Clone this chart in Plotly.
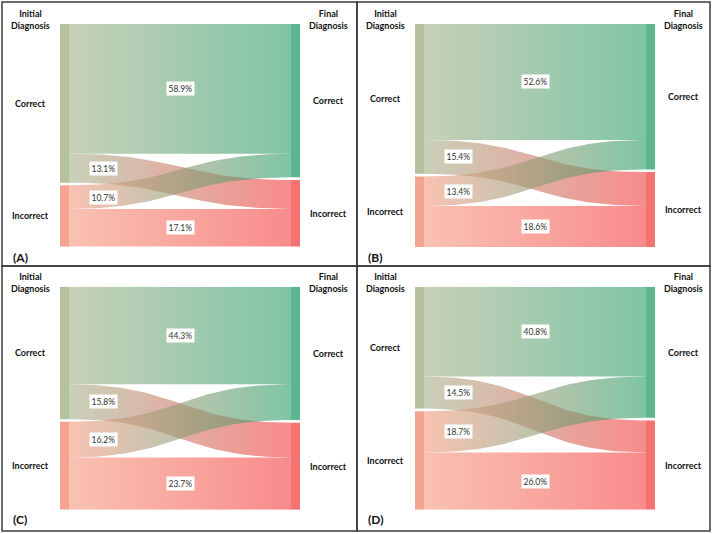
import numpy as np
import plotly.graph_objects as go

# ---------------- data ----------------
panel_letters = ["(A)", "(B)", "(C)", "(D)"]
correct_to_correct = [58.9, 52.6, 44.3, 40.8]
correct_to_incorrect = [13.1, 15.4, 15.8, 14.5]
incorrect_to_correct = [10.7, 13.4, 16.2, 18.7]
incorrect_to_incorrect = [17.1, 18.6, 23.7, 26.0]
node_labels = ["Correct", "Incorrect"]
stage_labels = ["Initial<br>Diagnosis", "Final<br>Diagnosis"]

# ---------------- style / layout constants ----------------
W, H = 714, 534
FONT = "Lato"
GAP = 1.2                 # gap between nodes (in % units)
Y_TOTAL = 100 + GAP
THICK = 9 / 240           # node thickness as fraction of sankey width
ALPHA = 0.6

node_col_left = ["#b5c2a0", "#f4a591"]
node_col_right = ["#5eb58e", "#f37272"]
base_left = [(163, 177, 138), (245, 153, 127)]
base_right = [(42, 158, 105), (243, 62, 62)]


def rgba(c, a=ALPHA):
    return f"rgba({c[0]},{c[1]},{c[2]},{a})"


fig = go.Figure()
annotations = []
shapes = []

col_off = [0, 355]
row_off = [0, 262.7]


def bez(xa, xb, ya, yb, n=60):
    t = np.linspace(0, 1, n)
    xm = (xa + xb) / 2
    x = (1 - t) ** 3 * xa + 3 * (1 - t) ** 2 * t * xm + 3 * (1 - t) * t ** 2 * xm + t ** 3 * xb
    y = (1 - t) ** 3 * ya + 3 * (1 - t) ** 2 * t * ya + 3 * (1 - t) * t ** 2 * yb + t ** 3 * yb
    return x, y


label_font = dict(family=FONT, size=9, color="#111", weight="bold")

for i in range(4):
    col, row = i % 2, i // 2
    ax = "" if i == 0 else str(i + 1)
    xref, yref = "x" + ax, "y" + ax
    x0px, x1px = 60 + col_off[col], 300 + col_off[col]
    y0px, y1px = 24 + row_off[row], 247 + row_off[row]
    fig.update_layout(**{
        "xaxis" + ax: dict(domain=[x0px / W, x1px / W], range=[0, 1], visible=False,
                           anchor=yref, fixedrange=True),
        "yaxis" + ax: dict(domain=[1 - y1px / H, 1 - y0px / H], range=[Y_TOTAL, 0],
                           visible=False, anchor=xref, fixedrange=True),
    })

    cc, ci = correct_to_correct[i], correct_to_incorrect[i]
    ic, ii = incorrect_to_correct[i], incorrect_to_incorrect[i]
    Lc, Li = cc + ci, ic + ii
    Rc, Ri = cc + ic, ci + ii
    left_nodes = [(0, Lc), (Lc + GAP, Lc + GAP + Li)]
    right_nodes = [(0, Rc), (Rc + GAP, Rc + GAP + Ri)]

    # links: (value, src_y, tgt_y, src_idx, tgt_idx)
    links = [
        (cc, 0, 0, 0, 0),
        (ii, Lc + GAP + ic, Rc + GAP + ci, 1, 1),
        (ci, cc, Rc + GAP, 0, 1),
        (ic, Lc + GAP, cc, 1, 0),
    ]
    xa, xb = THICK, 1 - THICK
    for v, s, t, si, ti in links:
        xt, yt = bez(xa, xb, s, t)
        xbm, ybm = bez(xa, xb, s + v, t + v)
        xs = np.concatenate([xt, xbm[::-1], [xt[0]]])
        ys = np.concatenate([yt, ybm[::-1], [yt[0]]])
        fig.add_trace(go.Scatter(
            x=xs, y=ys, xaxis=xref, yaxis=yref, mode="lines", line=dict(width=0),
            fill="toself",
            fillgradient=dict(type="horizontal",
                              colorscale=[[0, rgba(base_left[si])], [1, rgba(base_right[ti])]]),
            hoverinfo="skip", showlegend=False))

    # nodes
    for k, (a, b) in enumerate(left_nodes):
        fig.add_trace(go.Scatter(x=[0, THICK, THICK, 0, 0], y=[a, a, b, b, a],
                                 xaxis=xref, yaxis=yref, mode="lines", line=dict(width=0),
                                 fill="toself", fillcolor=node_col_left[k],
                                 hoverinfo="skip", showlegend=False))
        annotations.append(dict(x=-0.125, y=(a + b) / 2, xref=xref + " domain", yref=yref,
                                text=node_labels[k], showarrow=False,
                                xanchor="center", yanchor="middle", font=label_font))
    for k, (a, b) in enumerate(right_nodes):
        fig.add_trace(go.Scatter(x=[1 - THICK, 1, 1, 1 - THICK, 1 - THICK], y=[a, a, b, b, a],
                                 xaxis=xref, yaxis=yref, mode="lines", line=dict(width=0),
                                 fill="toself", fillcolor=node_col_right[k],
                                 hoverinfo="skip", showlegend=False))
        annotations.append(dict(x=1.12, y=(a + b) / 2, xref=xref + " domain", yref=yref,
                                text=node_labels[k], showarrow=False,
                                xanchor="center", yanchor="middle", font=label_font))

    # value labels
    for v, s, t, si, ti in links:
        if si == ti:
            lx, ly = 0.5, (s + t) / 2 + v / 2
        else:
            lx, ly = 0.18, s + v / 2
        annotations.append(dict(x=lx, y=ly, xref=xref, yref=yref, text=f"{v:.1f}%",
                                showarrow=False, bgcolor="white", borderpad=1.5,
                                xanchor="center", yanchor="middle",
                                font=dict(family=FONT, size=8.5, color="#333")))

    # stage headers
    for j, hx in enumerate([-0.125, 1.12]):
        annotations.append(dict(x=hx, y=1 + 4 / 223, xref=xref + " domain", yref=yref + " domain",
                                text=stage_labels[j], showarrow=False, borderpad=0,
                                xanchor="center", yanchor="middle", font=label_font))

    # panel letter
    annotations.append(dict(x=-0.205, y=-10 / 223, xref=xref + " domain", yref=yref + " domain",
                            text=panel_letters[i], showarrow=False, xanchor="left",
                            yanchor="middle",
                            font=dict(family=FONT, size=12, color="#111", weight="bold")))

# panel borders
lefts, rights = [2, 357], [357, 710]
tops, bottoms = [2, 266], [266, 531]
for r in range(2):
    for c in range(2):
        shapes.append(dict(type="rect", xref="paper", yref="paper",
                           x0=lefts[c] / W, x1=rights[c] / W,
                           y0=1 - bottoms[r] / H, y1=1 - tops[r] / H,
                           line=dict(color="#3a3a3a", width=1.5)))

fig.update_layout(width=W, height=H, margin=dict(l=0, r=0, t=0, b=0),
                  paper_bgcolor="white", plot_bgcolor="white",
                  annotations=annotations, shapes=shapes, showlegend=False,
                  hovermode=False)

fig.write_html("out.html")
